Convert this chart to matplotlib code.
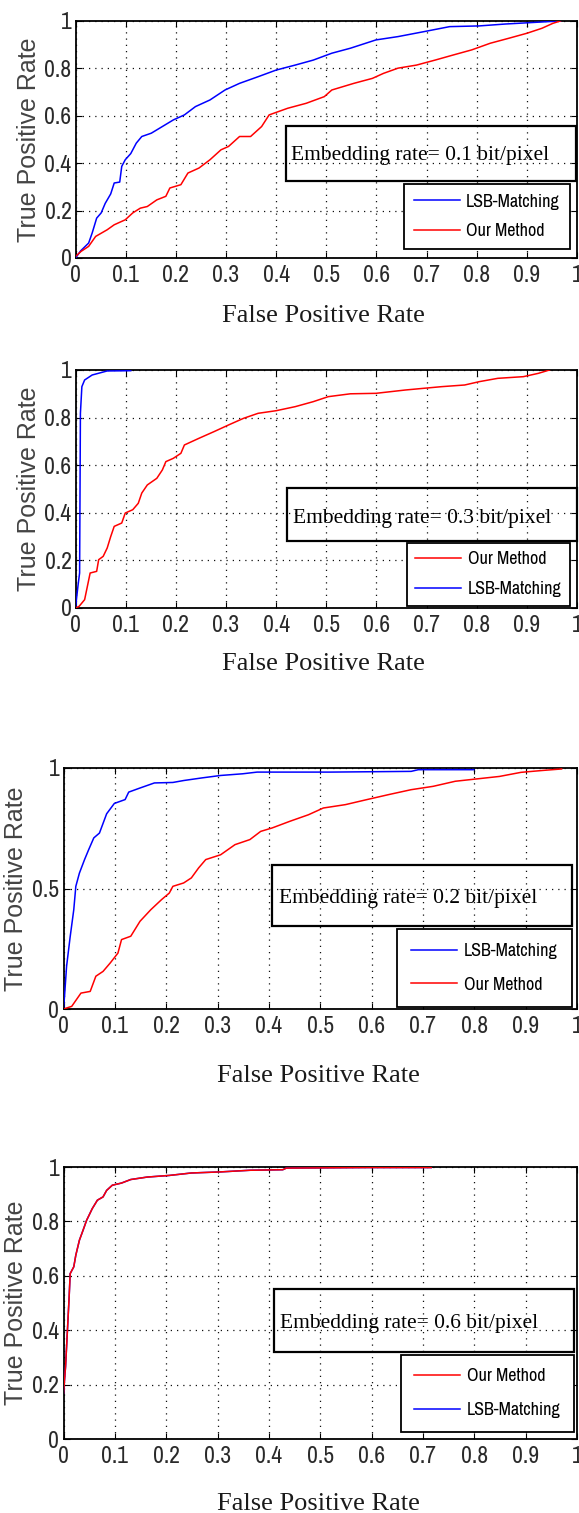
import matplotlib
matplotlib.use("Agg")
import matplotlib.pyplot as plt
from matplotlib.patches import Rectangle
from matplotlib.font_manager import FontProperties, fontManager

# ---- data ----
# panel 1 : 0.1 bit/pixel
lsb1_x = [0, 0.01, 0.026, 0.033, 0.042, 0.051, 0.059, 0.07, 0.077, 0.088, 0.092, 0.099, 0.11, 0.121,
          0.132, 0.151, 0.173, 0.195, 0.217, 0.239, 0.268, 0.298, 0.327, 0.364, 0.40, 0.438, 0.474,
          0.511, 0.548, 0.599, 0.643, 0.695, 0.746, 0.805, 0.857, 0.908, 0.967]
lsb1_y = [0, 0.03, 0.063, 0.105, 0.168, 0.19, 0.23, 0.27, 0.316, 0.32, 0.386, 0.414, 0.44, 0.484,
          0.512, 0.526, 0.554, 0.582, 0.603, 0.638, 0.666, 0.708, 0.736, 0.764, 0.792, 0.813, 0.834,
          0.863, 0.884, 0.919, 0.933, 0.954, 0.975, 0.978, 0.986, 0.992, 0.999]
our1_x = [0, 0.011, 0.026, 0.04, 0.063, 0.077, 0.099, 0.114, 0.129, 0.143, 0.162, 0.18, 0.188, 0.21,
          0.224, 0.246, 0.268, 0.29, 0.305, 0.327, 0.349, 0.371, 0.386, 0.423, 0.46, 0.496, 0.511,
          0.555, 0.592, 0.614, 0.643, 0.68, 0.717, 0.754, 0.79, 0.827, 0.864, 0.90, 0.93, 0.952, 0.967]
our1_y = [0.007, 0.028, 0.049, 0.091, 0.119, 0.14, 0.161, 0.19, 0.21, 0.217, 0.245, 0.26, 0.295, 0.309,
          0.358, 0.379, 0.414, 0.456, 0.47, 0.512, 0.512, 0.554, 0.603, 0.631, 0.652, 0.68, 0.708,
          0.736, 0.757, 0.778, 0.80, 0.813, 0.834, 0.856, 0.877, 0.905, 0.926, 0.947, 0.968, 0.989, 0.999]

# panel 2 : 0.3 bit/pixel
lsb2_x = [0, 0.002, 0.005, 0.008, 0.0096, 0.0125, 0.018, 0.033, 0.063, 0.11]
lsb2_y = [0, 0.042, 0.098, 0.147, 0.818, 0.93, 0.958, 0.979, 0.996, 0.997]
our2_x = [0, 0.007, 0.018, 0.029, 0.042, 0.046, 0.055, 0.063, 0.07, 0.077, 0.092, 0.099, 0.114, 0.125,
          0.132, 0.143, 0.162, 0.173, 0.18, 0.195, 0.21, 0.217, 0.246, 0.276, 0.305, 0.335, 0.364,
          0.40, 0.438, 0.474, 0.504, 0.548, 0.599, 0.658, 0.73, 0.776, 0.805, 0.842, 0.893, 0.923, 0.945]
our2_y = [0, 0.007, 0.035, 0.147, 0.154, 0.203, 0.217, 0.252, 0.30, 0.343, 0.357, 0.399, 0.413, 0.44,
          0.483, 0.517, 0.545, 0.58, 0.615, 0.629, 0.65, 0.685, 0.713, 0.741, 0.769, 0.797, 0.818,
          0.829, 0.846, 0.867, 0.888, 0.90, 0.902, 0.916, 0.93, 0.937, 0.951, 0.965, 0.972, 0.986, 1.0]

# panel 3 : 0.2 bit/pixel
lsb3_x = [0, 0.002, 0.006, 0.013, 0.02, 0.024, 0.031, 0.041, 0.049, 0.059, 0.07, 0.084, 0.099, 0.12,
          0.127, 0.149, 0.177, 0.213, 0.234, 0.27, 0.306, 0.349, 0.377, 0.52, 0.677, 0.691, 0.799]
lsb3_y = [0, 0.053, 0.177, 0.30, 0.412, 0.509, 0.564, 0.62, 0.661, 0.71, 0.73, 0.81, 0.853, 0.869,
          0.90, 0.917, 0.938, 0.94, 0.948, 0.959, 0.969, 0.976, 0.983, 0.983, 0.986, 0.993, 0.993]
our3_x = [0, 0.016, 0.034, 0.052, 0.063, 0.077, 0.091, 0.106, 0.113, 0.131, 0.149, 0.17, 0.191, 0.206,
          0.213, 0.234, 0.249, 0.263, 0.277, 0.306, 0.334, 0.363, 0.384, 0.406, 0.441, 0.477, 0.506,
          0.549, 0.591, 0.634, 0.677, 0.72, 0.763, 0.806, 0.849, 0.891, 0.934, 0.97]
our3_y = [0, 0.011, 0.066, 0.073, 0.136, 0.156, 0.191, 0.232, 0.288, 0.302, 0.364, 0.412, 0.454, 0.481,
          0.509, 0.523, 0.544, 0.585, 0.62, 0.64, 0.682, 0.703, 0.737, 0.751, 0.779, 0.806, 0.834,
          0.848, 0.869, 0.89, 0.91, 0.924, 0.945, 0.955, 0.965, 0.982, 0.99, 0.996]

# panel 4 : 0.6 bit/pixel (LSB curve sits under the red one)
our4_x = [0, 0.004, 0.008, 0.011, 0.013, 0.02, 0.024, 0.031, 0.038, 0.045, 0.056, 0.066, 0.077, 0.084,
          0.095, 0.113, 0.131, 0.163, 0.206, 0.249, 0.306, 0.363, 0.427, 0.434, 0.591, 0.716]
our4_y = [0.168, 0.266, 0.412, 0.523, 0.608, 0.633, 0.676, 0.731, 0.767, 0.804, 0.847, 0.878, 0.89, 0.914,
          0.933, 0.941, 0.954, 0.963, 0.969, 0.978, 0.982, 0.988, 0.99, 0.996, 0.998, 0.998]
lsb4_x = our4_x
lsb4_y = our4_y

rates = ["0.1", "0.3", "0.2", "0.6"]
xticks = [0, 0.1, 0.2, 0.3, 0.4, 0.5, 0.6, 0.7, 0.8, 0.9, 1]
xtick_labels = ["0", "0.1", "0.2", "0.3", "0.4", "0.5", "0.6", "0.7", "0.8", "0.9", "1"]
yticks_fine = [0, 0.2, 0.4, 0.6, 0.8, 1]
yticks_fine_labels = ["0", "0.2", "0.4", "0.6", "0.8", "1"]
yticks_coarse = [0, 0.5, 1]
yticks_coarse_labels = ["0", "0.5", "1"]

# pick a condensed sans for the MATLAB-like tick labels
names = {f.name for f in fontManager.ttflist}
narrow = "DejaVu Sans"
for cand in ["Liberation Sans Narrow", "Arial Narrow", "Archivo Narrow", "PT Sans Narrow",
             "Roboto Condensed", "Pragati Narrow", "IBM Plex Sans Condensed", "Encode Sans Condensed",
             "Sofia Sans Condensed", "Open Sans Condensed"]:
    if cand in names:
        narrow = cand
        break
tick_size = 17 if narrow != "DejaVu Sans" else 12
leg_size = 13 if narrow != "DejaVu Sans" else 11
plt.rcParams["font.family"] = [narrow, "DejaVu Sans"]

W, H = 579, 1513
fig = plt.figure(figsize=(W / 100, H / 100), dpi=100)

def rect_px(l, r, t, b):
    return [l / W, 1 - b / H, (r - l) / W, (b - t) / H]

# layout for each panel (pixel box of the axes, text box, legend box, label spots)
panels = [
    dict(ax=rect_px(75.6, 577, 20.7, 258), curves=[(lsb1_x, lsb1_y), (our1_x, our1_y)], order=["lsb", "our"],
         yt=(yticks_fine, yticks_fine_labels), box=(0.4196, 0.998, 0.3245, 0.556), txt=(0.4296, 0.413),
         leg=(0.986, 0.038), lsp=0.73, bpad=0.56, xl=(0.495, -0.268)),
    dict(ax=rect_px(75.6, 577, 370, 608), curves=[(lsb2_x, lsb2_y), (our2_x, our2_y)], order=["our", "lsb"],
         yt=(yticks_fine, yticks_fine_labels), box=(0.4216, 1.0, 0.2815, 0.504), txt=(0.4344, 0.356),
         leg=(0.986, 0.008), lsp=0.78, bpad=0.48, xl=(0.495, -0.26)),
    dict(ax=rect_px(63.5, 577, 768, 1009), curves=[(lsb3_x, lsb3_y), (our3_x, our3_y)], order=["lsb", "our"],
         yt=(yticks_coarse, yticks_coarse_labels), box=(0.406, 0.990, 0.344, 0.598), txt=(0.419, 0.4386),
         leg=(0.990, 0.008), lsp=0.95, bpad=0.8, xl=(0.496, -0.303)),
    dict(ax=rect_px(63.5, 577, 1167, 1439), curves=[(lsb4_x, lsb4_y), (our4_x, our4_y)], order=["our", "lsb"],
         yt=(yticks_fine, yticks_fine_labels), box=(0.41, 0.994, 0.32, 0.551), txt=(0.4224, 0.407),
         leg=(0.994, 0.026), lsp=1.0, bpad=0.75, xl=(0.496, -0.261)),
]

for p, rate in zip(panels, rates):
    ax = fig.add_axes(p["ax"])
    (lx, ly), (ox, oy) = p["curves"]
    h_lsb, = ax.plot(lx, ly, color="#0000ff", lw=1.1, zorder=3)
    h_our, = ax.plot(ox, oy, color="#ff0000", lw=1.1, zorder=4)
    ax.set_xlim(0, 1)
    ax.set_ylim(0, 1)
    ax.set_xticks(xticks)
    ax.set_xticklabels(xtick_labels)
    ax.set_yticks(p["yt"][0])
    ax.set_yticklabels(p["yt"][1])
    ax.tick_params(direction="in", length=4, width=0.8, top=True, right=True,
                   labelsize=tick_size, labelcolor="#2a2a2a")
    ax.tick_params(axis="x", pad=5)
    ax.tick_params(axis="y", pad=3)
    for s in ax.spines.values():
        s.set_linewidth(1.3)
    ax.grid(True, color="#111111", linestyle=(0, (1, 4)), linewidth=0.9)
    ax.set_axisbelow(True)

    ax.set_ylabel("True Positive Rate", family="Liberation Sans", fontsize=18, color="#444444")
    ax.yaxis.set_label_coords(-0.069, 0.5)
    ax.set_xlabel("False Positive Rate", family="Liberation Serif", fontsize=19, color="#1a1a1a",
                  va="baseline")
    ax.xaxis.set_label_coords(*p["xl"])

    x0, x1, y0, y1 = p["box"]
    ax.add_patch(Rectangle((x0, y0), x1 - x0, y1 - y0, transform=ax.transAxes, fill=False,
                           edgecolor="k", lw=1.6, clip_on=False, zorder=6))
    ax.text(p["txt"][0], p["txt"][1], "Embedding rate= %s bit/pixel" % rate, transform=ax.transAxes,
            family="Liberation Serif", fontsize=15.5, color="k", ha="left", va="baseline", zorder=6)

    hmap = {"lsb": (h_lsb, "LSB-Matching"), "our": (h_our, "Our Method")}
    hs = [hmap[k][0] for k in p["order"]]
    ls = [hmap[k][1] for k in p["order"]]
    leg = ax.legend(hs, ls, loc="lower right", bbox_to_anchor=p["leg"], bbox_transform=ax.transAxes,
                    borderaxespad=0, fancybox=False, edgecolor="k", framealpha=1,
                    prop=FontProperties(family=narrow, size=leg_size), handlelength=2.55,
                    handletextpad=0.35, labelspacing=p["lsp"], borderpad=p["bpad"])
    leg.get_frame().set_linewidth(1.3)
    leg.set_zorder(7)

fig.savefig("out.png", dpi=100)
